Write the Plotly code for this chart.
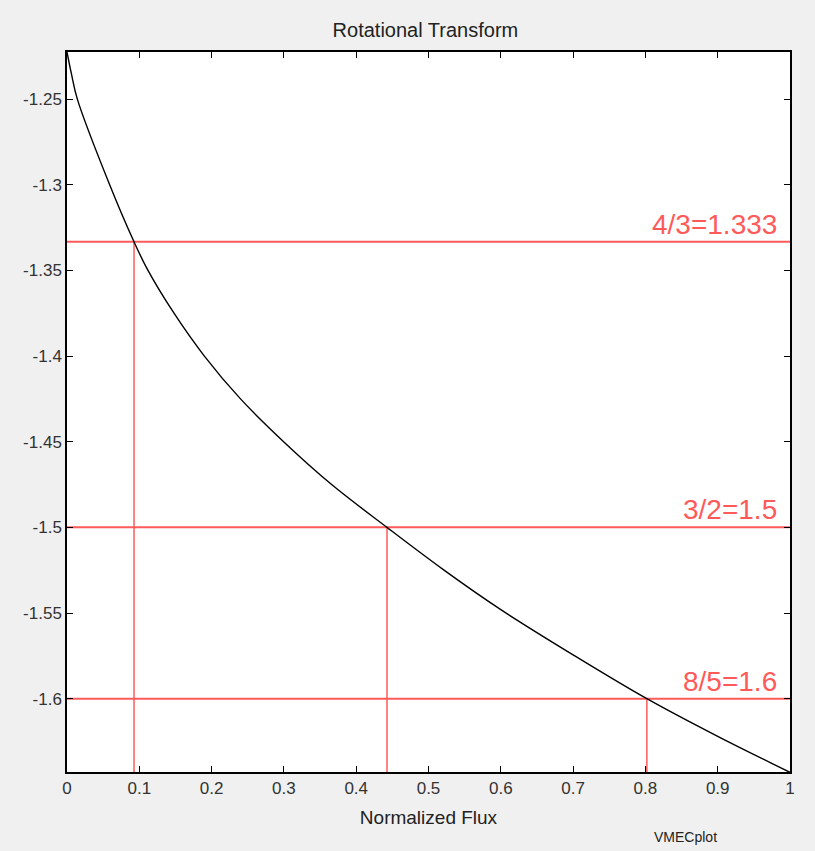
import plotly.graph_objects as go

# Curve: normalized flux vs rotational transform
flux = [0.0, 0.006, 0.0143, 0.059, 0.0927, 0.112, 0.148, 0.19, 0.24, 0.2996,
        0.366, 0.4426, 0.52, 0.60, 0.70, 0.802, 0.90, 1.0]
iota = [-1.2225, -1.235, -1.25, -1.3, -1.3333, -1.35, -1.375, -1.4, -1.425, -1.45,
        -1.475, -1.5, -1.5245, -1.548, -1.5744, -1.6, -1.622, -1.643]

# Resonances
res_vals = [-4/3, -1.5, -1.6]
res_flux = [0.0927, 0.4426, 0.802]
res_labels = ["4/3=1.333", "3/2=1.5", "8/5=1.6"]

xtick_vals = [0, 0.1, 0.2, 0.3, 0.4, 0.5, 0.6, 0.7, 0.8, 0.9, 1]
xtick_text = ["0", "0.1", "0.2", "0.3", "0.4", "0.5", "0.6", "0.7", "0.8", "0.9", "1"]
ytick_vals = [-1.25, -1.3, -1.35, -1.4, -1.45, -1.5, -1.55, -1.6]
ytick_text = ["-1.25", "-1.3", "-1.35", "-1.4", "-1.45", "-1.5", "-1.55", "-1.6"]

x_range = [0, 1]
y_range = [-1.6428, -1.2225]

red = "#ff5a5a"
font_fam = "Liberation Sans, Arial"

fig = go.Figure()

for v, f in zip(res_vals, res_flux):
    fig.add_trace(go.Scatter(x=[x_range[0], x_range[1]], y=[v, v], mode="lines",
                             line=dict(color=red, width=2), hoverinfo="skip"))
    fig.add_trace(go.Scatter(x=[f, f], y=[y_range[0], v], mode="lines",
                             line=dict(color=red, width=1.5), hoverinfo="skip"))

fig.add_trace(go.Scatter(x=flux, y=iota, mode="lines", line=dict(color="black", width=1.4),
                         line_shape="spline", line_smoothing=1.0))

for v, lab in zip(res_vals, res_labels):
    fig.add_annotation(x=0.985, y=v, xref="x", yref="y", text=lab, showarrow=False,
                       xanchor="right", yanchor="bottom", yshift=0,
                       font=dict(family=font_fam, size=28, color=red))

fig.add_annotation(x=0.856, y=-0.09, xref="paper", yref="paper", text="VMECplot",
                   showarrow=False, xanchor="center", yanchor="middle",
                   font=dict(family=font_fam, size=14, color="#222"))

axis_common = dict(showline=True, linecolor="black", linewidth=1.5, mirror="ticks",
                   ticks="inside", ticklen=6, tickcolor="black", tickwidth=1,
                   showgrid=False, zeroline=False,
                   tickfont=dict(family=font_fam, size=17, color="#333"))

fig.update_layout(
    width=815, height=851,
    margin=dict(l=67, r=25, t=52, b=79),
    paper_bgcolor="#f0f0f0", plot_bgcolor="white",
    showlegend=False,
    title=dict(text="Rotational Transform", x=0.522, xanchor="center", y=0.965, yanchor="middle",
               font=dict(family=font_fam, size=20, color="#222")),
    xaxis=dict(range=x_range, tickvals=xtick_vals, ticktext=xtick_text,
               title=dict(text="Normalized Flux", standoff=14,
                          font=dict(family=font_fam, size=19, color="#222")),
               **axis_common),
    yaxis=dict(range=y_range, tickvals=ytick_vals, ticktext=ytick_text, **axis_common),
)

fig.write_html("out.html")
